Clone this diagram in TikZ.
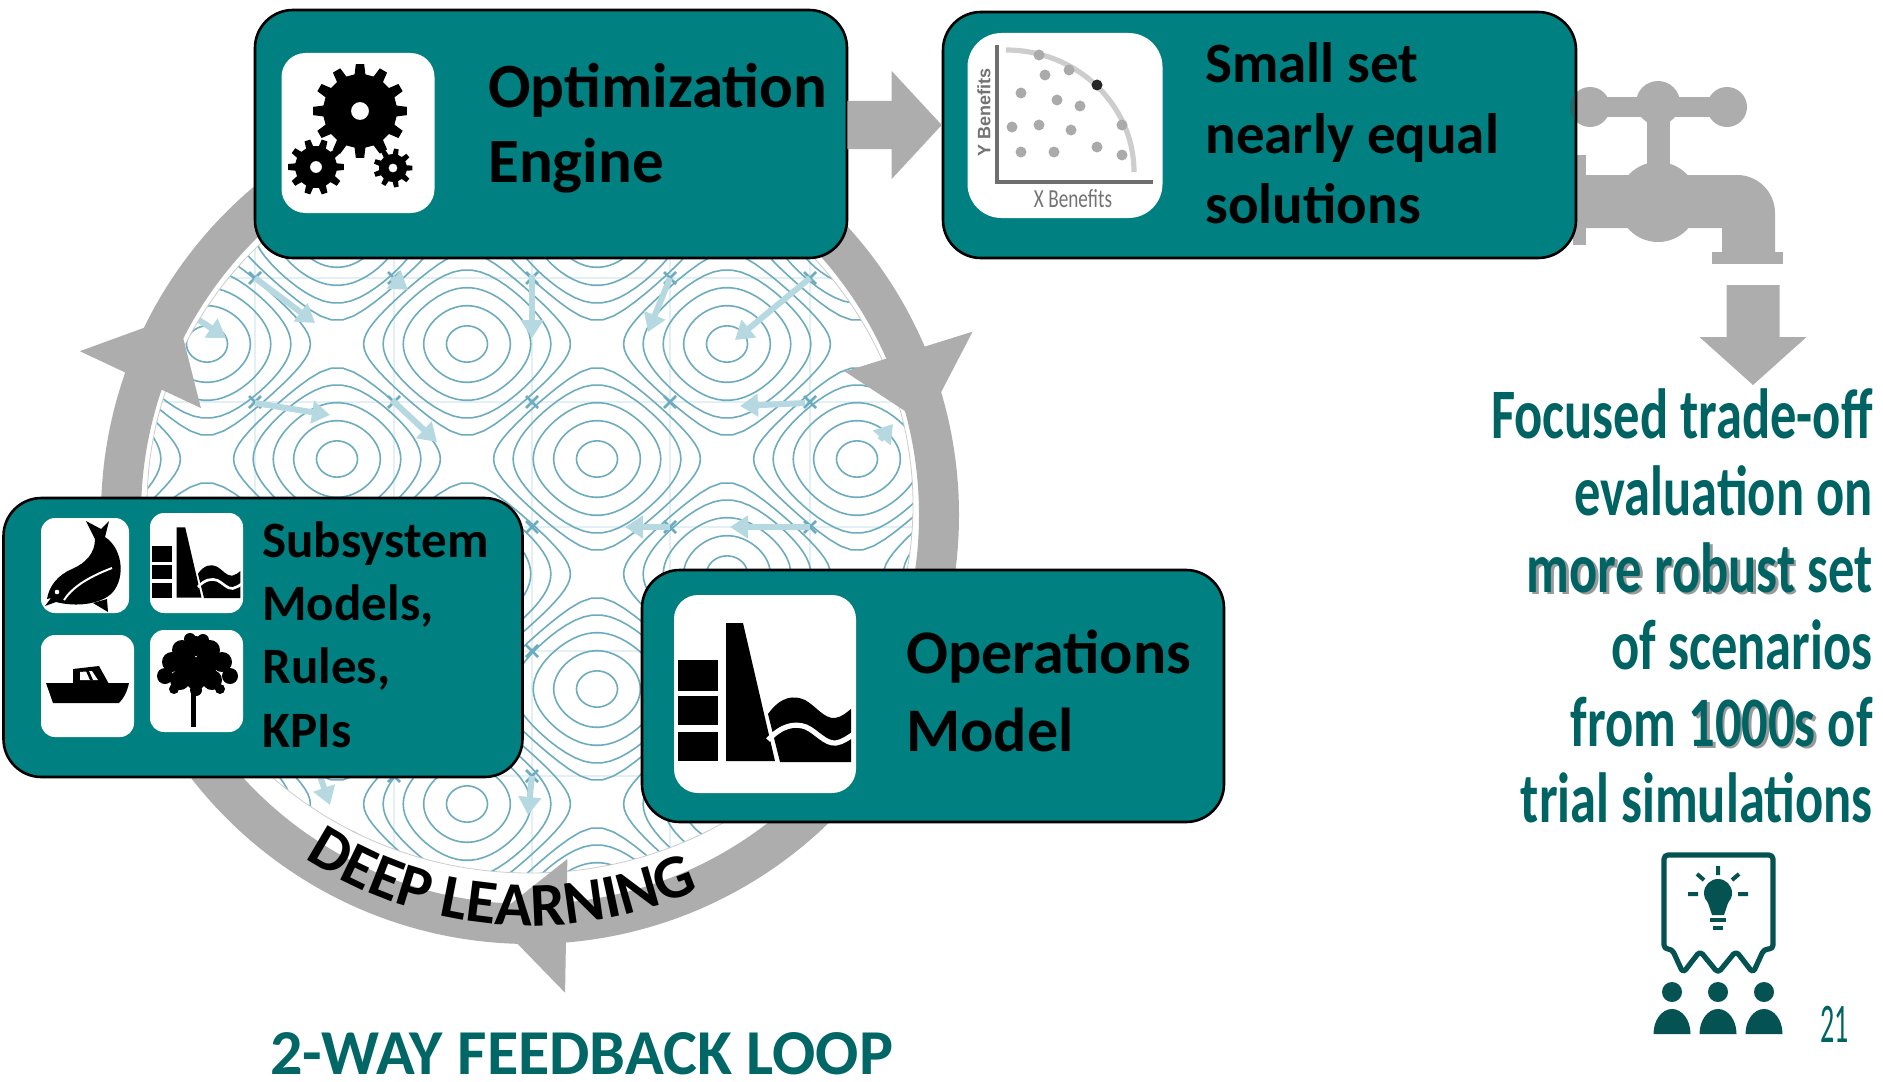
\documentclass[tikz,border=0pt]{standalone}
\usepackage{fontspec}
\setmainfont{Carlito}
\newfontfamily\agency{Carlito}[FakeStretch=0.74]
\newfontfamily\arialfont{Liberation Sans}
\usetikzlibrary{calc,decorations.text,arrows.meta}

\definecolor{boxteal}{RGB}{0,128,128}
\definecolor{darkteal}{RGB}{0,102,102}
\definecolor{texteal}{RGB}{0,99,99}
\definecolor{icondark}{RGB}{4,82,82}
\definecolor{ringgray}{RGB}{173,173,173}
\definecolor{contourblue}{RGB}{108,172,190}
\definecolor{arrowblue}{RGB}{182,217,225}
\definecolor{gridblue}{RGB}{226,240,244}
\definecolor{paretogray}{RGB}{170,170,170}
\definecolor{axisgray}{RGB}{110,110,110}
\definecolor{frontgray}{RGB}{205,205,205}
\definecolor{labelgray}{RGB}{115,115,115}

% word with a soft drop shadow
\newcommand\shadowtxt[1]{\makebox[0pt][l]{\hspace{1.3pt}\raisebox{-1.3pt}{\textcolor{black!40}{#1}}}#1}

% gear: centre x, centre y, teeth, root radius, tip radius, hole radius
\newcommand\gearshape[6]{%
  \fill[black, even odd rule, shift={(#1,#2)}] (-360/#3*0.28:#4)
    \foreach \k in {1,...,#3} {
      -- ({(\k-1)*360/#3-360/#3*0.17}:#5) -- ({(\k-1)*360/#3+360/#3*0.17}:#5)
      -- ({(\k-1)*360/#3+360/#3*0.28}:#4) -- ({\k*360/#3-360/#3*0.28}:#4) }
    -- cycle (0,0) circle (#6);}

% dam with water: top-left x, top-left y, scale
\newcommand\damicon[3]{%
  \begin{scope}[shift={(#1,#2)}, scale=#3]
    \fill (4,65) rectangle (44,96);
    \fill (4,101) rectangle (44,130);
    \fill (4,137) rectangle (44,166);
    \fill (52,28) -- (69,28) -- (101,166) -- (52,166) -- cycle;
    \fill (94,119) .. controls (107,101) and (120,100) .. (131,105)
      .. controls (142,111) and (150,124) .. (161,123)
      .. controls (168,122) and (173,117) .. (177,114) -- (177,167) -- (106,167) -- cycle;
    \draw[white, line width=#3*2.6pt] (94,145) .. controls (108,130) and (121,128) .. (132,132)
      .. controls (143,137) and (151,149) .. (162,148) .. controls (169,147) and (175,142) .. (180,139);
  \end{scope}}

\begin{document}
\begin{tikzpicture}[x=0.5pt, y=-0.5pt,
  tealbox/.style={draw=black, line width=1.3pt, fill=boxteal, rounded corners=19pt, inner sep=0pt},
  iconbox/.style={fill=white, draw=none, rounded corners=#1, inner sep=0pt},
  iconbox/.default=12pt,
  boxtext/.style={font=\bfseries\fontsize{#1}{#1}\selectfont, text=black, inner sep=0pt, anchor=base west},
  rtext/.style={font=\agency\bfseries\fontsize{35.5}{35.5}\selectfont, text=texteal, inner sep=0pt, anchor=base east},
  contour/.style={draw=contourblue, line width=0.8pt},
  gridline/.style={draw=gridblue, line width=0.7pt},
  saddlemark/.style={draw=contourblue, line width=1.3pt},
  descent/.style={draw=arrowblue, line width=3pt, -{Triangle[length=9pt,width=11pt]}},
  graybar/.style={fill=ringgray, draw=none},
  icon/.style={fill=icondark, draw=none},
  iconline/.style={draw=icondark, line width=2.6pt, line join=round, line cap=round},
]
\useasboundingbox (0,0) rectangle (1883,1081);
\fill[white] (0,0) rectangle (1883,1081);

\coordinate (rc) at (530,515);

% ---------- contour map inside the loop ----------
\begin{scope}
  \clip (530,505) ellipse [x radius=383, y radius=368];
  \foreach \gx in {117,255,394,532,670,810} \draw[gridline] (\gx,100) -- (\gx,900);
  \foreach \gy in {153,278,402,527,651,776} \draw[gridline] (100,\gy) -- (960,\gy);
  \foreach \m in {-3,...,4} {
    \foreach \n in {-2,...,5} {
      \pgfmathtruncatemacro\parity{mod(\m+\n+100,2)}
      \ifnum\parity=0
        \pgfmathsetmacro\cx{467+130*\m}
        \pgfmathsetmacro\cy{344+115*\n}
        \foreach \lev in {1.88,1.5,1.03,0.56,0.2} {
          \pgfmathsetmacro\um{acos(\lev-1)}
          \draw[contour]
            plot[domain=-90:90, samples=30, variable=\s]
              ({\cx+\um*sin(\s)*0.72222}, {\cy-acos(min(1,max(-1,\lev-cos(\um*sin(\s)))))*0.63889})
            -- plot[domain=90:-90, samples=30, variable=\s]
              ({\cx+\um*sin(\s)*0.72222}, {\cy+acos(min(1,max(-1,\lev-cos(\um*sin(\s)))))*0.63889})
            -- cycle;
        }
      \fi
    }
  }
  \foreach \gx in {117,255,394,532,670,810}
    \foreach \gy in {153,278,402,527,651,776}
      \draw[saddlemark] (\gx-6,\gy-6) -- (\gx+6,\gy+6) (\gx-6,\gy+6) -- (\gx+6,\gy-6);
  \draw[descent] (255,278) -- (315,323);
  \draw[descent] (392,278) -- (408,290);
  \draw[descent] (532,275) -- (532,338);
  \draw[descent] (196,318) -- (226,338);
  \draw[descent] (255,403) -- (330,415);
  \draw[descent] (392,400) -- (437,442);
  \draw[descent] (670,278) -- (648,332);
  \draw[descent] (810,278) -- (735,340);
  \draw[descent] (805,403) -- (740,406);
  \draw[descent] (880,440) -- (893,424);
  \draw[descent] (670,527) -- (625,527);
  \draw[descent] (810,527) -- (730,527);
  \draw[descent] (320,776) -- (330,805);
  \draw[descent] (532,776) -- (528,815);
\end{scope}
\draw[gray!40, line width=0.4pt] (530,505) ellipse [x radius=383, y radius=368];

% ---------- feedback ring with three arrowheads ----------
\draw[ringgray, line width=20pt] (rc) circle (409);
\foreach \th in {200,337.5,85.8}
  \fill[ringgray] ($(rc)+(\th+9.5:405)$) -- ($(rc)+(\th:479)$) -- ($(rc)+(\th-2:346)$) -- cycle;
\path[decorate, decoration={text along path, text align=center,
    text={|\bfseries\fontsize{31}{31}\selectfont|DEEP LEARNING}}]
  ($(rc)+(124:411)$) arc[start angle=124, end angle=65, radius=411];

% ---------- faucet and its outflow ----------
\fill[ringgray] (1573,155) rectangle (1586,245);
\fill[ringgray] (1585,175) -- (1737,175) arc[start angle=-90, end angle=0, radius=38]
  -- (1775,252) -- (1722,252) -- (1722,228) -- (1585,228) -- cycle;
\fill[ringgray] (1658,202) circle (40);
\fill[ringgray] (1647,115) rectangle (1670,170);
\fill[ringgray] (1590,97) rectangle (1727,117);
\fill[ringgray] (1590,107) circle (20) (1658,103) circle (22) (1727,107) circle (20);
\fill[ringgray] (1712,252) rectangle (1783,264);
\coordinate (drip) at (1753,285);
\coordinate (dripend) at (1753,385);
\fill[graybar] ($(drip)+(-26.5,0)$) -- ($(dripend)+(-26.5,-48)$) -- ($(dripend)+(-53.5,-48)$)
  -- (dripend) -- ($(dripend)+(53.5,-48)$) -- ($(dripend)+(26.5,-48)$) -- ($(drip)+(26.5,0)$) -- cycle;

% ---------- boxes ----------
\node[tealbox, minimum width=296pt, minimum height=124pt] (opt) at (551,134) {};
\node[tealbox, minimum width=316.5pt, minimum height=123pt] (small) at (1259.5,135) {};
\node[tealbox, minimum width=259.5pt, minimum height=139.5pt] (subsys) at (263,637.5) {};
\node[tealbox, minimum width=291pt, minimum height=126pt] (ops) at (933,696) {};

% handle knob seen through the solution box edge
\begin{scope}
  \clip (1540,60) rectangle (1575,160);
  \fill[black!70, opacity=0.45] (1590,107) circle (20);
\end{scope}

% block arrow from the engine to the solution set
\coordinate (arrowmid) at (0,125);
\path (opt.east |- arrowmid) coordinate (a0) (small.west |- arrowmid) coordinate (a1);
\fill[graybar] ($(a0)+(-1,-24)$) -- ($(a1)+(-50,-24)$) -- ($(a1)+(-50,-54)$) -- (a1)
  -- ($(a1)+(-50,54)$) -- ($(a1)+(-50,24)$) -- ($(a0)+(-1,24)$) -- cycle;

% ---------- icon tiles ----------
\node[iconbox=12pt, minimum width=76.5pt, minimum height=80pt] (gearsq) at (358,133) {};
\node[iconbox=17pt, minimum width=97.5pt, minimum height=92.5pt] (paretosq) at (1065,125.5) {};
\node[iconbox=12pt, minimum width=91pt, minimum height=99pt] (damsq) at (765,694) {};
\node[iconbox=7pt, minimum width=44pt, minimum height=47.5pt] (fishsq) at (85,565.5) {};
\node[iconbox=7pt, minimum width=46.5pt, minimum height=50pt] (smdamsq) at (196.5,563) {};
\node[iconbox=7pt, minimum width=46.5pt, minimum height=51pt] (boatsq) at (87.5,686) {};
\node[iconbox=7pt, minimum width=46.5pt, minimum height=51pt] (treesq) at (196.5,681) {};

% gears
\gearshape{360}{111}{12}{37}{47}{9}
\gearshape{316}{167}{10}{21}{28}{6}
\gearshape{393}{168}{9}{14}{19.5}{4.5}

% pareto chart
\draw[axisgray, line width=2pt] (997,45) -- (997,182) -- (1153,182);
\draw[frontgray, line width=2.6pt] (1006,50) arc[start angle=-90, end angle=0, x radius=128, y radius=122];
\foreach \p in {(1039,55),(1069,70),(1045,75),(1021,93),(1057,100),(1080,106),(1012,127),(1039,125),
    (1071,130),(1122,125),(1021,152),(1054,152),(1097,147),(1122,155)}
  \fill[paretogray] \p circle (5.5);
\fill[black!85] (1097,85) circle (5.5);
\node[rotate=90, font=\arialfont\bfseries\fontsize{9}{9}\selectfont, text=labelgray, inner sep=0pt] (ylab) at (984,112) {Y Benefits};
\node[font=\agency\fontsize{13}{13}\selectfont, text=labelgray, inner sep=0pt] (xlab) at (1073,199) {X Benefits};

% dams
\damicon{674}{595}{1}
\damicon{150}{513}{0.51}

% fish
\fill (47,599) .. controls (49,586) and (58,575) .. (72,569) .. controls (86,563) and (95,553) .. (95,539)
  -- (86,521) -- (101,529) -- (109,521) -- (105,537)
  .. controls (122,548) and (126,576) .. (113,592) .. controls (101,605) and (75,607) .. (56,602)
  -- (45,606) -- (51,598) -- cycle;
\fill (93,603) -- (108,612) -- (107,599) -- cycle;
\fill (100,560) -- (114,566) -- (104,570) -- cycle;
\fill[white] (57,592) circle (2.3);
\draw[white, line width=1pt] (64,600) .. controls (72,588) and (86,578) .. (112,568);

% boat
\fill (46,683) -- (129,683) .. controls (127,692) and (124,698) .. (119,703) -- (53,703) -- cycle;
\fill (73,684) -- (73,669) -- (99,666) -- (109,684) -- cycle;
\fill[white] (80,672) -- (92,671) -- (98,680) -- (80,680) -- cycle;
\fill (86,671) -- (89,671) -- (93,680) -- (90,680) -- cycle;

% tree
\fill (191,686) rectangle (196,727);
\foreach \c/\r in {{(196,646)}/10,{(182,650)}/10,{(210,650)}/10,{(172,662)}/10,{(222,662)}/10,
    {(186,664)}/12,{(206,664)}/12,{(165,676)}/8,{(230,676)}/8,{(180,680)}/10,{(212,680)}/10,
    {(196,680)}/10,{(196,690)}/6,{(174,689)}/5,{(220,689)}/5,{(190,639)}/6,{(203,640)}/6}
  \fill \c circle (\r);

% ---------- box texts ----------
\node[boxtext=31.5] (opt1) at (488,107) {Optimization};
\node[boxtext=31.5] (opt2) at (488,182) {Engine};
\node[boxtext=28.5] (sm1) at (1205,83) {Small set};
\node[boxtext=28.5] (sm2) at (1205,154) {nearly equal};
\node[boxtext=28.5] (sm3) at (1205,223) {solutions};
\node[boxtext=25.5] (sub1) at (262,557) {Subsystem};
\node[boxtext=25.5] (sub2) at (262,620) {Models,};
\node[boxtext=25.5] (sub3) at (262,683) {Rules,};
\node[boxtext=25.5] (sub4) at (262,747) {KPIs};
\node[boxtext=31] (ops1) at (906,673) {Operations};
\node[boxtext=31] (ops2) at (906,751) {Model};

% ---------- right-hand statement ----------
\node[rtext] (t1) at (1873,438) {Focused trade-off};
\node[rtext] (t2) at (1873,515) {evaluation on};
\node[rtext] (t3) at (1873,592) {\shadowtxt{more robust} set};
\node[rtext] (t4) at (1873,669) {of scenarios};
\node[rtext] (t5) at (1873,746) {from \shadowtxt{1000s} of};
\node[rtext] (t6) at (1873,822) {trial simulations};

% presentation icon
\draw[iconline, rounded corners=2pt] (1683,973) -- (1672,949) -- (1664,949) -- (1664,855) -- (1773,855)
  -- (1773,949) -- (1764,949) -- (1753,973) -- (1736,951) -- (1718,973) -- (1700,951) -- cycle;
\fill[icon] (1718,893) circle (14);
\fill[icon] (1707,900) -- (1729,900) -- (1724,915) -- (1712,915) -- cycle;
\fill[icon] (1710,918) rectangle (1726,922);
\fill[icon] (1713,926) rectangle (1723,930);
\draw[icondark, line width=2pt] (1688,894) -- (1698,894) (1738,894) -- (1748,894) (1718,866) -- (1718,875)
  (1697,874) -- (1704,880) (1739,874) -- (1732,880);
\foreach \px in {1672,1718,1764} {
  \fill[icon] (\px,992) circle (10);
  \fill[icon] (\px-18.5,1034) arc[start angle=180, end angle=360, x radius=18.5, y radius=25] -- cycle;
}
\node[font=\fontsize{28}{28}\selectfont, text=texteal, inner sep=0pt, anchor=base east] (pnum) at (1849,1042) {\scalebox{0.5}[1]{21}};

% caption
\node[font=\bfseries\fontsize{32}{32}\selectfont, text=darkteal, inner sep=0pt, anchor=base west] (loop) at (270,1074) {2-WAY FEEDBACK LOOP};
\end{tikzpicture}
\end{document}
